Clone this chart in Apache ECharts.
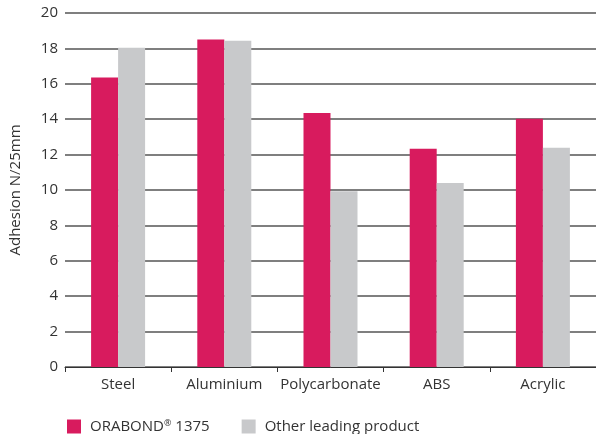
<!DOCTYPE html>
<html>
<head>
<meta charset="utf-8">
<script src="https://cdn.jsdelivr.net/npm/echarts@6/dist/echarts.min.js"></script>
<style>html,body{margin:0;padding:0;background:#fff}#c{width:596px;height:434px}</style>
</head>
<body>
<div id="c"></div>
<script>
const categories = ['Steel', 'Aluminium', 'Polycarbonate', 'ABS', 'Acrylic'];
const orabond = [16.35, 18.5, 14.35, 12.33, 14.02];
const other = [18.03, 18.43, 9.93, 10.4, 12.38];
const seriesNames = ['ORABOND® 1375', 'Other leading product'];

const chart = echarts.init(document.getElementById('c'));
const font = 'Open Sans, Liberation Sans, Arial, sans-serif';
chart.setOption({
  animation: false,
  textStyle: { fontFamily: font },
  grid: { left: 65, right: -3, top: 13, bottom: 67 },
  legend: {
    left: 62, top: 414,
    itemWidth: 14, itemHeight: 14, itemGap: 32,
    icon: 'rect',
    textStyle: { fontSize: 15, color: '#333', fontFamily: font, padding: [0,0,0,4],
      rich: { sup: { fontSize: 9, verticalAlign: 'top', padding: [0,0,6,0], color: '#333', fontFamily: font } } },
    formatter: function (n) {
      if (n.indexOf('®') >= 0) return 'ORABOND{sup|®} 1375';
      return n;
    },
    data: seriesNames
  },
  xAxis: {
    type: 'category',
    data: categories,
    axisLine: { lineStyle: { color: '#333', width: 1 } },
    axisTick: { show: true, length: 5, lineStyle: { color: '#333' } },
    axisLabel: { color: '#333', fontSize: 15, margin: 10, interval: 0 }
  },
  yAxis: {
    type: 'value',
    min: 0, max: 20, interval: 2,
    name: 'Adhesion N/25mm',
    nameLocation: 'middle',
    nameGap: 42,
    nameTextStyle: { fontSize: 15, color: '#333' },
    axisLine: { show: false },
    axisTick: { show: false },
    axisLabel: { color: '#333', fontSize: 15, margin: 7 },
    splitLine: { lineStyle: { color: '#555', width: 1.5 } }
  },
  series: [
    { name: seriesNames[0], type: 'bar', data: orabond, barWidth: 27, barGap: '0%',
      itemStyle: { color: '#D81B5E' } },
    { name: seriesNames[1], type: 'bar', data: other, barWidth: 27, barGap: '0%',
      itemStyle: { color: '#C8C9CB' } }
  ]
});
</script>
</body>
</html>
